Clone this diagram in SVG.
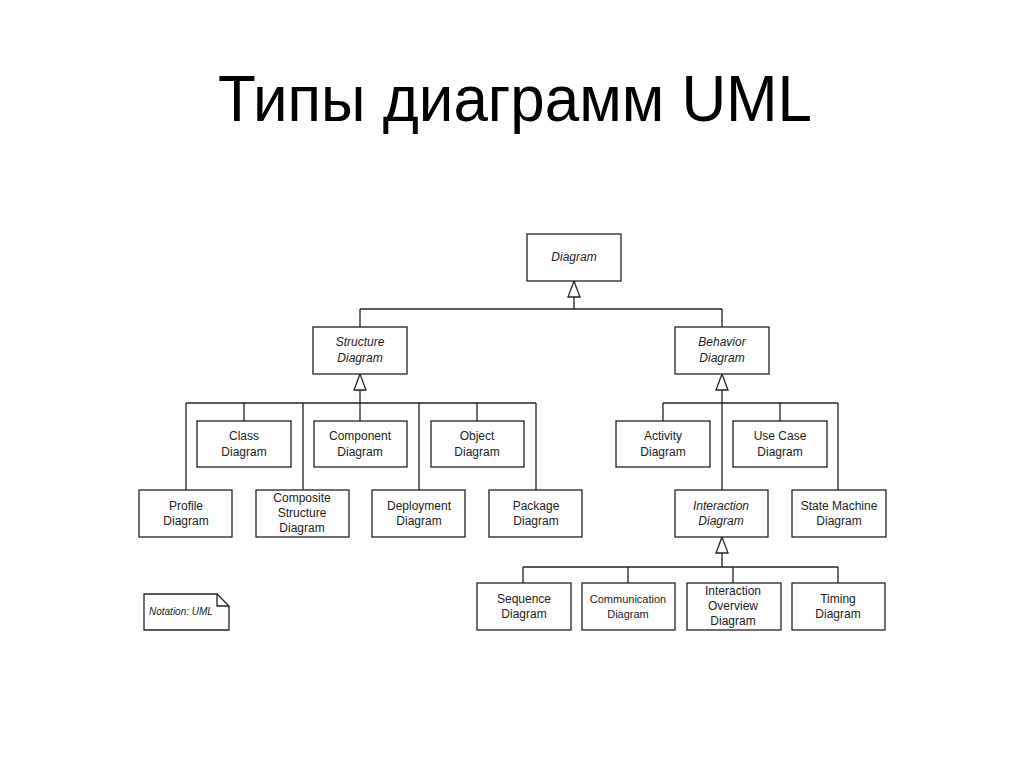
<svg xmlns="http://www.w3.org/2000/svg" width="1024" height="767" viewBox="0 0 1024 767">
<defs>
<style>
.box{fill:#fff;stroke:#222;stroke-width:1.3}
.t{font-family:"Liberation Sans",Arial,sans-serif;font-size:12px;fill:#222;text-anchor:middle}
.i{font-style:italic}
.c{fill:none;stroke:#222;stroke-width:1.3}
.tri{fill:#fff;stroke:#222;stroke-width:1.3}
</style>
</defs>
<rect width="1024" height="767" fill="#fff"/>
<text x="515" y="121" font-family="'Liberation Sans',Arial,sans-serif" font-size="64" fill="#000" text-anchor="middle" textLength="594" lengthAdjust="spacingAndGlyphs">Типы диаграмм UML</text>
<g id="connectors">
<path class="c" d="M574 297V309M360 309H722M360 309V327M722 309V327"/>
<path class="c" d="M360 390V403M186 403H536M186 403V490M244 403V421M303 403V490M360 403V421M419 403V490M477 403V421M536 403V490"/>
<path class="c" d="M722 390V490M663 403H838M663 403V421M780 403V421M838 403V490"/>
<path class="c" d="M722 553V567M523 567H838M523 567V583M628 567V583M733 567V583M838 567V583"/>
<polygon class="tri" points="574,281 568,297 580,297"/>
<polygon class="tri" points="360,374 354,390 366,390"/>
<polygon class="tri" points="722,374 716,390 728,390"/>
<polygon class="tri" points="722,537 716,553 728,553"/>
</g>
<g id="diagram"><rect class="box" x="527" y="234" width="94" height="47"/><text class="t i" x="574" y="261">Diagram</text></g>
<g id="structure"><rect class="box" x="313" y="327" width="94" height="47"/><text class="t i" x="360" y="346">Structure</text><text class="t i" x="360" y="362">Diagram</text></g>
<g id="behavior"><rect class="box" x="675" y="327" width="94" height="47"/><text class="t i" x="722" y="346">Behavior</text><text class="t i" x="722" y="362">Diagram</text></g>
<g id="class"><rect class="box" x="197" y="421" width="94" height="46"/><text class="t" x="244" y="440">Class</text><text class="t" x="244" y="456">Diagram</text></g>
<g id="component"><rect class="box" x="314" y="421" width="93" height="46"/><text class="t" x="360" y="440">Component</text><text class="t" x="360" y="456">Diagram</text></g>
<g id="object"><rect class="box" x="431" y="421" width="93" height="46"/><text class="t" x="477" y="440">Object</text><text class="t" x="477" y="456">Diagram</text></g>
<g id="profile"><rect class="box" x="139" y="490" width="93" height="47"/><text class="t" x="186" y="510">Profile</text><text class="t" x="186" y="525">Diagram</text></g>
<g id="composite"><rect class="box" x="256" y="490" width="93" height="47"/><text class="t" x="302" y="502">Composite</text><text class="t" x="302" y="517">Structure</text><text class="t" x="302" y="532">Diagram</text></g>
<g id="deployment"><rect class="box" x="372" y="490" width="93" height="47"/><text class="t" x="419" y="510">Deployment</text><text class="t" x="419" y="525">Diagram</text></g>
<g id="package"><rect class="box" x="489" y="490" width="93" height="47"/><text class="t" x="536" y="510">Package</text><text class="t" x="536" y="525">Diagram</text></g>
<g id="activity"><rect class="box" x="616" y="421" width="94" height="46"/><text class="t" x="663" y="440">Activity</text><text class="t" x="663" y="456">Diagram</text></g>
<g id="usecase"><rect class="box" x="733" y="421" width="94" height="46"/><text class="t" x="780" y="440">Use Case</text><text class="t" x="780" y="456">Diagram</text></g>
<g id="interaction"><rect class="box" x="675" y="490" width="93" height="47"/><text class="t i" x="721" y="510">Interaction</text><text class="t i" x="721" y="525">Diagram</text></g>
<g id="statemachine"><rect class="box" x="792" y="490" width="94" height="47"/><text class="t" x="839" y="510">State Machine</text><text class="t" x="839" y="525">Diagram</text></g>
<g id="sequence"><rect class="box" x="477" y="583" width="94" height="47"/><text class="t" x="524" y="603">Sequence</text><text class="t" x="524" y="618">Diagram</text></g>
<g id="communication"><rect class="box" x="582" y="583" width="93" height="47"/><text class="t" x="628" y="603" style="font-size:11px">Communication</text><text class="t" x="628" y="618" style="font-size:11px">Diagram</text></g>
<g id="overview"><rect class="box" x="687" y="583" width="94" height="47"/><text class="t" x="733" y="595">Interaction</text><text class="t" x="733" y="610">Overview</text><text class="t" x="733" y="625">Diagram</text></g>
<g id="timing"><rect class="box" x="792" y="583" width="93" height="47"/><text class="t" x="838" y="603">Timing</text><text class="t" x="838" y="618">Diagram</text></g>
<g id="note"><path class="box" d="M144 594H217L229 606V630H144Z"/><path class="c" d="M217 594V606H229"/><text class="t i" x="149" y="615" style="font-size:10px;text-anchor:start">Notation: UML</text></g>
</svg>
